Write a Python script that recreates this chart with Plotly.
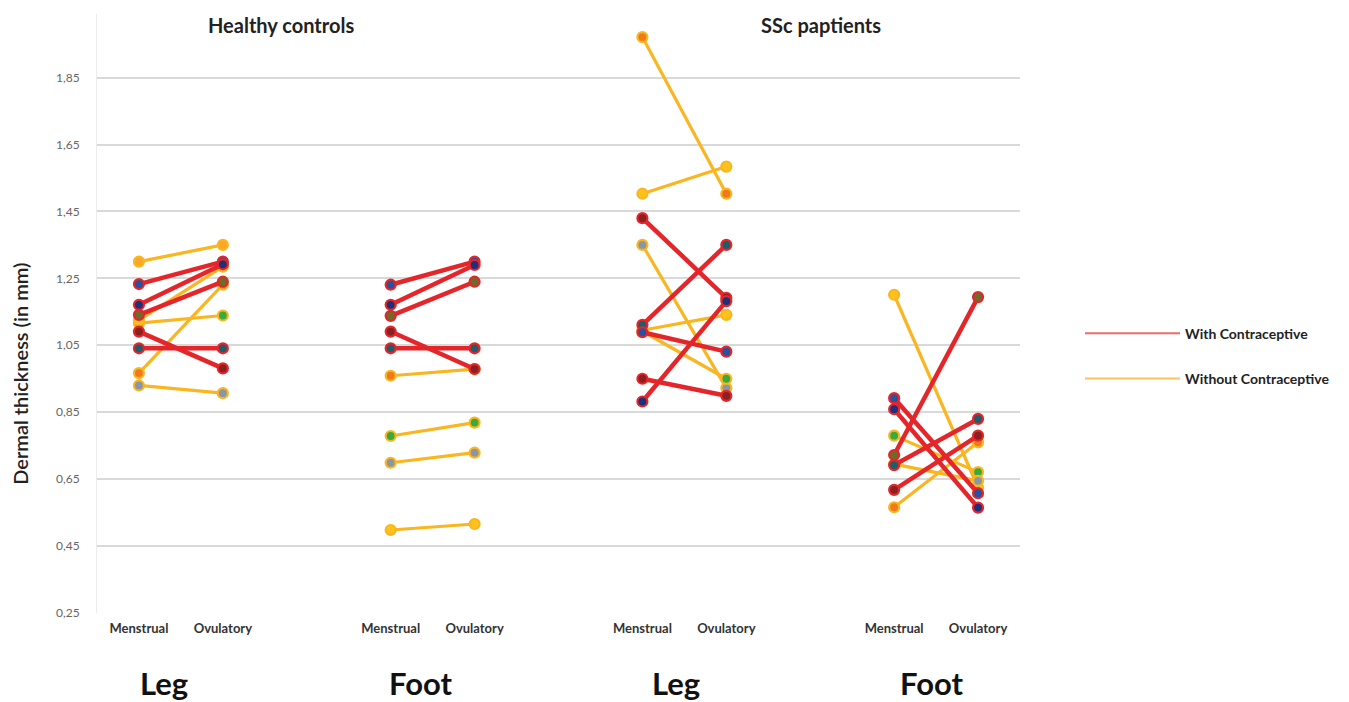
import plotly.graph_objects as go

# ---------------- data ----------------
phase_labels = ["Menstrual", "Ovulatory"]
group_labels = ["Leg", "Foot", "Leg", "Foot"]
panel_titles = ["Healthy controls", "SSc paptients"]
legend_names = ["With Contraceptive", "Without Contraceptive"]
y_ticks = [0.25, 0.45, 0.65, 0.85, 1.05, 1.25, 1.45, 1.65, 1.85]

# Healthy controls - Leg
hc_leg_men = [1.300, 1.233, 1.171, 1.141, 1.116, 1.125, 1.091, 1.041, 0.967, 0.930]
hc_leg_ovu = [1.350, 1.300, 1.292, 1.240, 1.139, 1.285, 0.981, 1.041, 1.231, 0.907]
hc_leg_contra = [0, 1, 1, 1, 0, 0, 1, 1, 0, 0]
hc_leg_dot = ["orange", "blue", "navy", "olive", "green", "yellow", "darkred", "teal", "orange2", "grey"]

# Healthy controls - Foot
hc_foot_men = [1.231, 1.171, 1.138, 1.091, 1.041, 0.959, 0.779, 0.699, 0.498]
hc_foot_ovu = [1.300, 1.290, 1.240, 0.979, 1.041, 0.979, 0.819, 0.729, 0.516]
hc_foot_contra = [1, 1, 1, 1, 1, 0, 0, 0, 0]
hc_foot_dot = ["blue", "navy", "olive", "darkred", "teal", "orange2", "green", "grey", "yellow"]

# SSc patients - Leg
ssc_leg_men = [1.971, 1.503, 1.430, 1.350, 1.111, 1.089, 1.095, 1.092, 0.950, 0.882]
ssc_leg_ovu = [1.503, 1.584, 1.192, 0.922, 1.350, 1.031, 1.141, 0.950, 0.899, 1.182]
ssc_leg_contra = [0, 0, 1, 0, 1, 1, 0, 0, 1, 1]
ssc_leg_dot = ["orange2", "yellow", "darkred", "grey", "teal", "blue", "yellow", "green", "darkred", "navy"]

# SSc patients - Foot
ssc_foot_men = [1.201, 0.892, 0.859, 0.780, 0.722, 0.692, 0.618, 0.566, 0.695]
ssc_foot_ovu = [0.625, 0.608, 0.565, 0.671, 1.194, 0.830, 0.780, 0.760, 0.645]
ssc_foot_contra = [0, 1, 1, 0, 1, 1, 1, 0, 0]
ssc_foot_dot = ["yellow", "blue", "navy", "green", "olive", "teal", "darkred", "orange2", "grey"]

groups = [
    (hc_leg_men, hc_leg_ovu, hc_leg_contra, hc_leg_dot),
    (hc_foot_men, hc_foot_ovu, hc_foot_contra, hc_foot_dot),
    (ssc_leg_men, ssc_leg_ovu, ssc_leg_contra, ssc_leg_dot),
    (ssc_foot_men, ssc_foot_ovu, ssc_foot_contra, ssc_foot_dot),
]

# ---------------- styling ----------------
RED = "#e4262b"
YELLOW = "#f9b620"
DOTS = {
    "orange": "#f9a825", "orange2": "#f07a1a", "blue": "#2c4f9e", "navy": "#1f2f7a",
    "olive": "#6f6a2a", "green": "#3aaa3a", "yellow": "#ffc21a", "darkred": "#8a2020",
    "teal": "#1f5d6b", "grey": "#8a96a8",
}
FONT = "Lato, 'Open Sans', Arial, sans-serif"
GROUP_STEP = 3  # category slots per group

fig = go.Figure()

for order in (0, 1):  # draw without-contraceptive lines first, then with
    for gi, (men, ovu, contra, dots) in enumerate(groups):
        x0 = gi * GROUP_STEP
        for m, o, c, d in zip(men, ovu, contra, dots):
            is_red = c == 1
            if (order == 1) != is_red:
                continue
            col = RED if is_red else YELLOW
            fig.add_trace(go.Scatter(
                x=[x0, x0 + 1], y=[m, o],
                mode="lines+markers",
                line=dict(color=col, width=4.5 if is_red else 3.2),
                marker=dict(size=10, color=DOTS[d], line=dict(color=col, width=2.2)),
                showlegend=False, hoverinfo="y",
            ))

# legend entries
fig.add_trace(go.Scatter(x=[None], y=[None], mode="lines", name=legend_names[0],
                         line=dict(color="#f06a6a", width=2), legendgroup="a"))
fig.add_trace(go.Scatter(x=[None], y=[None], mode="lines", name=legend_names[1],
                         line=dict(color="#fcc45a", width=2), legendgroup="b"))

tickvals = []
ticktext = []
for gi in range(len(groups)):
    tickvals += [gi * GROUP_STEP, gi * GROUP_STEP + 1]
    ticktext += phase_labels

annotations = []
for gi, lab in enumerate(group_labels):
    annotations.append(dict(
        x=gi * GROUP_STEP + 0.3 + 0.05 * gi, y=-0.117, xref="x", yref="paper",
        xanchor="center", yanchor="middle",
        text=f"<b>{lab}</b>", showarrow=False,
        font=dict(family=FONT, size=31, color="#111111"),
    ))
annotations.append(dict(x=1.69, y=0.982, xref="x", yref="paper", text=f"<b>{panel_titles[0]}</b>",
                        xanchor="center", yanchor="middle",
                        showarrow=False, font=dict(family=FONT, size=20, color="#222222")))
annotations.append(dict(x=8.13, y=0.982, xref="x", yref="paper", text=f"<b>{panel_titles[1]}</b>",
                        xanchor="center", yanchor="middle",
                        showarrow=False, font=dict(family=FONT, size=20, color="#222222")))
annotations.append(dict(x=-0.083, y=0.40, xref="paper", yref="paper", text="Dermal thickness (in mm)",
                        xanchor="center", yanchor="middle",
                        textangle=-90, showarrow=False,
                        font=dict(family=FONT, size=20, color="#222222", weight=600)))

fig.update_layout(
    width=1341, height=694,
    margin=dict(l=89, r=329, t=6, b=89),
    paper_bgcolor="white", plot_bgcolor="white",
    separators=", ",
    font=dict(family=FONT, color="#333333"),
    annotations=annotations,
    legend=dict(x=1.065, y=0.493, xanchor="left", yanchor="top",
                font=dict(family=FONT, size=14, color="#222222", weight="bold"),
                tracegroupgap=24, itemwidth=95, bgcolor="rgba(0,0,0,0)"),
)
fig.update_xaxes(
    range=[-0.5, 10.5], tickmode="array", tickvals=tickvals, ticktext=ticktext,
    tickfont=dict(family=FONT, size=13, color="#333333", weight="bold"),
    showgrid=False, zeroline=False, showline=False, ticks="", ticklabelstandoff=6,
)
fig.update_yaxes(
    range=[0.25, 2.04], tickmode="array", tickvals=y_ticks, tickformat=".2f",
    tickfont=dict(family=FONT, size=12, color="#666666"),
    showgrid=True, gridcolor="#d9d9d9", gridwidth=1.5, zeroline=False,
    showline=True, linecolor="#ececec", linewidth=1, ticklabelstandoff=14,
)

fig.write_html("out.html")
